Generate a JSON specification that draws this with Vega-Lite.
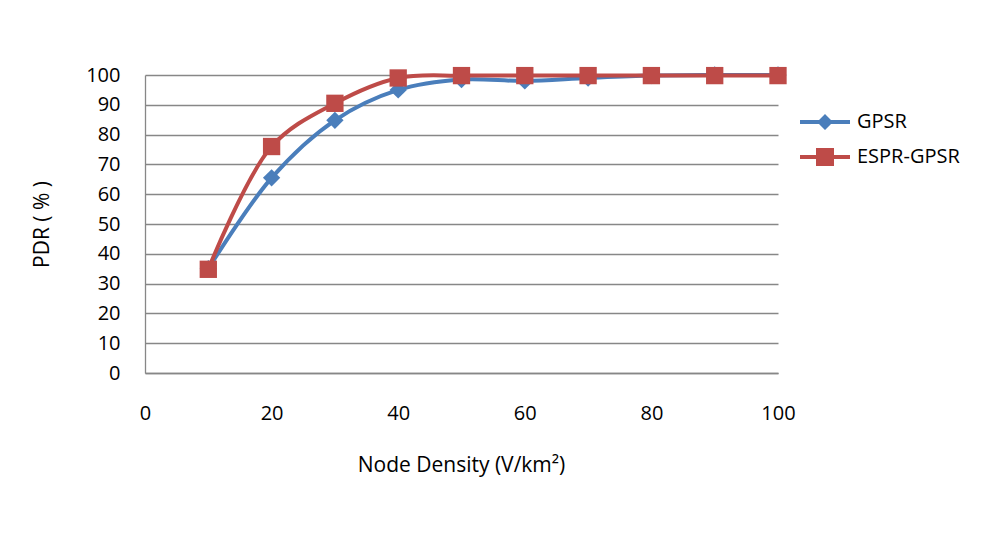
{
  "$schema": "https://vega.github.io/schema/vega-lite/v6.json",
  "autosize": "none",
  "width": 633,
  "height": 298,
  "padding": {"left": 145, "top": 75, "right": 204, "bottom": 164},
  "background": "white",
  "config": {
    "font": "Open Sans",
    "view": {"stroke": null},
    "axis": {"labelFont": "Open Sans", "titleFont": "Open Sans", "labelFontSize": 20, "titleFontSize": 21, "labelColor": "#000000", "titleColor": "#000000", "titleFontWeight": "normal", "labelFlush": false}
  },
  "data": {
    "values": [
      {"density": 10, "pdr": 35, "series": "GPSR"},
      {"density": 20, "pdr": 65.5, "series": "GPSR"},
      {"density": 30, "pdr": 84.8, "series": "GPSR"},
      {"density": 40, "pdr": 95, "series": "GPSR"},
      {"density": 50, "pdr": 98.5, "series": "GPSR"},
      {"density": 60, "pdr": 98, "series": "GPSR"},
      {"density": 70, "pdr": 99, "series": "GPSR"},
      {"density": 80, "pdr": 99.8, "series": "GPSR"},
      {"density": 90, "pdr": 100, "series": "GPSR"},
      {"density": 100, "pdr": 100, "series": "GPSR"},
      {"density": 10, "pdr": 34.8, "series": "ESPR-GPSR"},
      {"density": 20, "pdr": 76, "series": "ESPR-GPSR"},
      {"density": 30, "pdr": 90.5, "series": "ESPR-GPSR"},
      {"density": 40, "pdr": 99, "series": "ESPR-GPSR"},
      {"density": 50, "pdr": 99.8, "series": "ESPR-GPSR"},
      {"density": 60, "pdr": 99.8, "series": "ESPR-GPSR"},
      {"density": 70, "pdr": 99.8, "series": "ESPR-GPSR"},
      {"density": 80, "pdr": 99.8, "series": "ESPR-GPSR"},
      {"density": 90, "pdr": 99.8, "series": "ESPR-GPSR"},
      {"density": 100, "pdr": 99.8, "series": "ESPR-GPSR"}
    ]
  },
  "encoding": {
    "x": {
      "field": "density", "type": "quantitative",
      "scale": {"domain": [0, 100], "nice": false, "zero": true},
      "axis": {"values": [0, 20, 40, 60, 80, 100], "grid": false, "ticks": false, "domain": true, "domainColor": "#878787", "domainWidth": 1.3, "labelPadding": 30, "labelFlush": false, "title": "Node Density (V/km²)", "titleX": 316, "titleY": 92, "titleBaseline": "middle", "titleAlign": "center"}
    },
    "y": {
      "field": "pdr", "type": "quantitative",
      "scale": {"domain": [0, 100], "nice": false},
      "axis": {"values": [0, 10, 20, 30, 40, 50, 60, 70, 80, 90, 100], "grid": true, "gridColor": "#878787", "gridWidth": 1.3, "gridOpacity": 1, "ticks": false, "domain": true, "domainColor": "#878787", "domainWidth": 1.3, "labelPadding": 25, "labelFlush": false, "title": "PDR ( % )", "titleX": -103, "titleY": 149, "titleAngle": -90, "titleBaseline": "middle", "titleAlign": "center"}
    }
  },
  "layer": [
    {
      "mark": {"type": "line", "interpolate": "catmull-rom", "strokeWidth": 4},
      "encoding": {
        "color": {
          "field": "series", "type": "nominal",
          "scale": {"domain": ["GPSR", "ESPR-GPSR"], "range": ["#4A7EBB", "#BE4B48"]},
          "legend": {
            "title": null, "orient": "none", "legendX": 670, "legendY": 37,
            "labelFont": "Open Sans", "labelFontSize": 20, "labelColor": "#000000",
            "symbolSize": 400, "labelOffset": 22, "rowPadding": 15,
            "encode": {
              "symbols": {
                "update": {
                  "shape": {"signal": "datum.value === 'GPSR' ? 'M-2.5,-0.2L-0.6,-0.2L0,-0.8L0.6,-0.2L2.5,-0.2L2.5,0.2L0.6,0.2L0,0.8L-0.6,0.2L-2.5,0.2Z' : 'M-2.5,-0.2L-0.9,-0.2L-0.9,-0.9L0.9,-0.9L0.9,-0.2L2.5,-0.2L2.5,0.2L0.9,0.2L0.9,0.9L-0.9,0.9L-0.9,0.2L-2.5,0.2Z'"},
                  "fill": {"signal": "datum.value === 'GPSR' ? '#4A7EBB' : '#BE4B48'"},
                  "fillOpacity": {"value": 1},
                  "strokeWidth": {"value": 0},
                  "opacity": {"value": 1}
                }
              }
            }
          }
        }
      }
    },
    {
      "transform": [{"filter": "datum.series === 'GPSR'"}],
      "mark": {"type": "point", "filled": true, "opacity": 1, "shape": "diamond", "color": "#4A7EBB", "size": 300}
    },
    {
      "transform": [{"filter": "datum.series === 'ESPR-GPSR'"}],
      "mark": {"type": "point", "filled": true, "opacity": 1, "shape": "square", "color": "#BE4B48", "size": 300}
    }
  ]
}
